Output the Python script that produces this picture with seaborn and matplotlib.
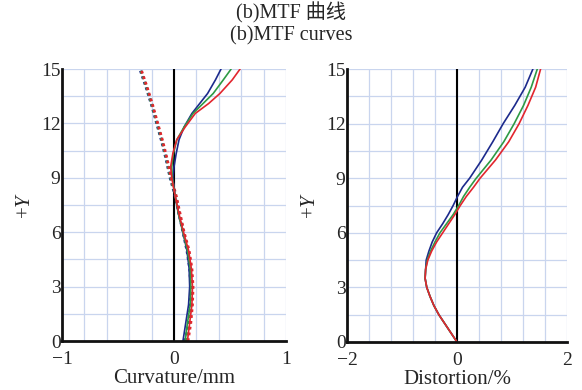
import numpy as np
import pandas as pd
import matplotlib
matplotlib.use("Agg")
import matplotlib.pyplot as plt
import seaborn as sns

# ---------------- data ----------------
# Field curvature, tangential (solid lines)
curv_t_y = [0, 1, 2, 3, 4, 5, 6, 7, 8, 9, 9.6, 10.35, 11.1, 11.8, 12.55, 13.1, 13.65, 14.4, 15]
curv_t_blue = [0.08, 0.105, 0.13, 0.14, 0.135, 0.115, 0.08, 0.04, 0.01, -0.01, 0.0, 0.02, 0.045, 0.09, 0.16, 0.23, 0.30, 0.37, 0.42]
curv_t_green = [0.10, 0.12, 0.145, 0.15, 0.145, 0.12, 0.08, 0.04, 0.01, -0.015, -0.02, -0.005, 0.025, 0.09, 0.17, 0.26, 0.35, 0.44, 0.51]
curv_t_red = [0.12, 0.14, 0.16, 0.165, 0.155, 0.13, 0.085, 0.045, 0.01, -0.02, -0.03, -0.01, 0.025, 0.10, 0.19, 0.31, 0.41, 0.52, 0.59]

# Field curvature, sagittal (dotted lines)
curv_s_y = [0, 1, 2, 3, 4, 5, 6, 7, 8, 9, 10, 11, 12, 13, 14, 15]
curv_s_blue = [0.10, 0.13, 0.145, 0.15, 0.14, 0.115, 0.08, 0.045, 0.01, -0.035, -0.07, -0.11, -0.155, -0.20, -0.25, -0.305]
curv_s_green = [0.11, 0.14, 0.155, 0.16, 0.15, 0.125, 0.085, 0.05, 0.015, -0.03, -0.065, -0.105, -0.15, -0.195, -0.245, -0.30]
curv_s_red = [0.125, 0.15, 0.165, 0.17, 0.16, 0.135, 0.09, 0.055, 0.02, -0.025, -0.06, -0.10, -0.145, -0.19, -0.24, -0.295]

# Distortion (%)
dist_y = [0, 0.5, 1, 1.5, 2, 2.5, 3, 3.5, 4, 4.5, 5, 5.5, 6, 6.5, 7, 7.5, 8, 8.5, 9, 10, 11, 12, 13, 14, 15]
dist_blue = [0, -0.11, -0.22, -0.33, -0.42, -0.49, -0.55, -0.58, -0.57, -0.56, -0.51, -0.45, -0.37, -0.26, -0.16,
             -0.07, 0.01, 0.10, 0.23, 0.45, 0.65, 0.84, 1.05, 1.24, 1.38]
dist_green = [0, -0.11, -0.22, -0.33, -0.42, -0.49, -0.55, -0.58, -0.57, -0.54, -0.48, -0.40, -0.31, -0.19, -0.07,
              0.03, 0.12, 0.23, 0.35, 0.62, 0.85, 1.04, 1.21, 1.35, 1.46]
dist_red = [0, -0.11, -0.22, -0.33, -0.42, -0.49, -0.55, -0.58, -0.57, -0.53, -0.46, -0.37, -0.26, -0.15, -0.04,
            0.06, 0.17, 0.30, 0.42, 0.70, 0.94, 1.13, 1.29, 1.43, 1.52]

title_cn = "(b)MTF 曲线"
title_en = "(b)MTF curves"
left_xlabel = "Curvature/mm"
right_xlabel = "Distortion/%"
ylabel = "+$Y$"
left_xticks = [-1, 0, 1]
right_xticks = [-2, 0, 2]
yticks = [0, 3, 6, 9, 12, 15]

# ---------------- styling ----------------
sns.set_theme(style="white")
plt.rcParams["font.family"] = ["Liberation Serif", "Noto Sans CJK SC"]
plt.rcParams["mathtext.fontset"] = "custom"
plt.rcParams["mathtext.it"] = "Liberation Serif:italic"
plt.rcParams["mathtext.rm"] = "Liberation Serif"

BLUE = "#1c2a8c"
GREEN = "#2e9a44"
RED = "#e2262e"
GRID = "#c9d5ee"

fig = plt.figure(figsize=(5.82, 3.90), dpi=100)
axL = fig.add_axes([62 / 582, 1 - 341 / 390, 224 / 582, 272 / 390])
axR = fig.add_axes([347 / 582, 1 - 342 / 390, 220 / 582, 273 / 390])


def frame(ys, xs):
    return pd.DataFrame({"x": xs, "y": ys})


# Left: curvature
for vals, col in [(curv_s_blue, BLUE), (curv_s_green, GREEN), (curv_s_red, RED)]:
    sns.lineplot(data=frame(curv_s_y, vals), x="x", y="y", sort=False, estimator=None,
                 color=col, lw=2.0, ls=(0, (1, 1.1)), ax=axL)
for vals, col in [(curv_t_blue, BLUE), (curv_t_green, GREEN), (curv_t_red, RED)]:
    sns.lineplot(data=frame(curv_t_y, vals), x="x", y="y", sort=False, estimator=None,
                 color=col, lw=1.2, ax=axL)

# Right: distortion
for vals, col in [(dist_blue, BLUE), (dist_green, GREEN), (dist_red, RED)]:
    sns.lineplot(data=frame(dist_y, vals), x="x", y="y", sort=False, estimator=None,
                 color=col, lw=1.2, ax=axR)


def style(ax, xlim, xticks, xlabel, minor_step):
    ax.set_xlim(*xlim)
    ax.set_ylim(0, 15)
    ax.set_xticks(xticks)
    ax.set_xticks(np.arange(xlim[0], xlim[1] + 1e-9, minor_step), minor=True)
    ax.set_yticks(yticks)
    ax.set_yticks(np.arange(0, 15.01, 1.5), minor=True)
    ax.set_xticklabels([f"{t:d}".replace("-", "\u2212") for t in xticks])
    ax.grid(True, which="both", color=GRID, lw=0.9)
    ax.set_axisbelow(True)
    ax.axvline(0, color="black", lw=1.5, zorder=1.5)
    for s in ["top", "right"]:
        ax.spines[s].set_visible(False)
    for s in ["left", "bottom"]:
        ax.spines[s].set_color("#111111")
        ax.spines[s].set_linewidth(2.0)
    ax.tick_params(axis="both", which="both", direction="in", length=3,
                   width=1, color="#222222", labelsize=14)
    ax.tick_params(axis="x", pad=7)
    ax.tick_params(axis="y", pad=1)
    ax.set_xlabel(xlabel, fontsize=15, labelpad=1)
    ax.set_ylabel(ylabel, fontsize=15, labelpad=4)


style(axL, (-1, 1), left_xticks, left_xlabel, 0.2)
style(axR, (-2, 2), right_xticks, right_xlabel, 0.4)

fig.text(0.5, 1 - 13 / 390, title_cn, ha="center", va="center", fontsize=14.5)
fig.text(0.5, 1 - 36 / 390, title_en, ha="center", va="center", fontsize=14.5)

fig.savefig("out.png", dpi=100, facecolor="white")
